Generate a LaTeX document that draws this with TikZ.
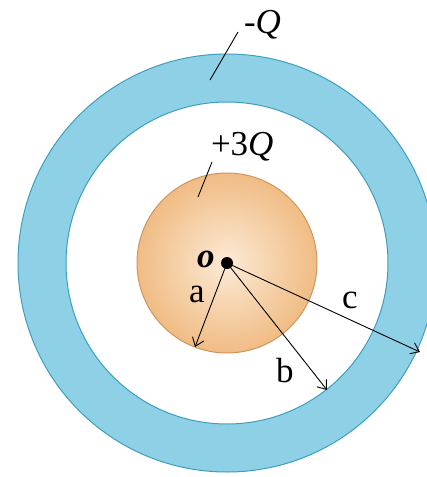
\documentclass[tikz,border=0pt]{standalone}
\usepackage{fontspec}
\setmainfont{Liberation Serif}
\usetikzlibrary{arrows.meta}
\definecolor{ringblue}{RGB}{142,209,231}
\definecolor{ringedge}{RGB}{62,158,190}
\definecolor{ballin}{RGB}{252,234,214}
\definecolor{ballout}{RGB}{240,188,132}
\definecolor{balledge}{RGB}{206,150,92}
\tikzset{
  lbl/.style={inner sep=0pt,outer sep=0pt,anchor=base west,text=black,font=\fontsize{35}{38}\selectfont},
  radius arrow/.style={draw=black,line width=0.9pt,-{Straight Barb[length=8pt,width=12pt,line width=0.9pt]}},
  leader/.style={draw=black,line width=0.9pt}
}
\begin{document}
\begin{tikzpicture}[x=1pt,y=-1pt]
\path[use as bounding box,fill=white] (0,0) rectangle (427,477);
\coordinate (o) at (227,263);
% outer shell
\path[fill=ringblue,even odd rule] (o) circle (209pt) (o) circle (161pt);
\draw[ringedge,line width=1pt] (o) circle (209pt);
\draw[ringedge,line width=1pt] (o) circle (161pt);
% inner sphere
\shade[inner color=ballin,outer color=ballout] (o) circle (90pt);
\draw[balledge,line width=1pt] (o) circle (90pt);
% radii
\coordinate (aend) at (195,347);
\coordinate (bend) at (327,390);
\coordinate (cend) at (420,352);
\draw[radius arrow] (o) -- (aend);
\draw[radius arrow] (o) -- (bend);
\draw[radius arrow] (o) -- (cend);
\fill[black] (o) circle (6pt);
\node[lbl] (lo) at (197,267) {\textbf{\textit{o}}};
\node[lbl] (la) at (189,302) {a};
\node[lbl] (lb) at (276,382) {b};
\node[lbl] (lc) at (342,308) {c};
% charges
\node[lbl] (qout) at (244,33) {-\textit{Q}};
\node[lbl] (qin) at (211,155) {+3\textit{Q}};
\coordinate (qouttop) at (238,32);
\coordinate (qoutbot) at (210,80);
\coordinate (qintop) at (212,162);
\coordinate (qinbot) at (198,197);
\draw[leader] (qouttop) -- (qoutbot);
\draw[leader] (qintop) -- (qinbot);
\end{tikzpicture}
\end{document}
